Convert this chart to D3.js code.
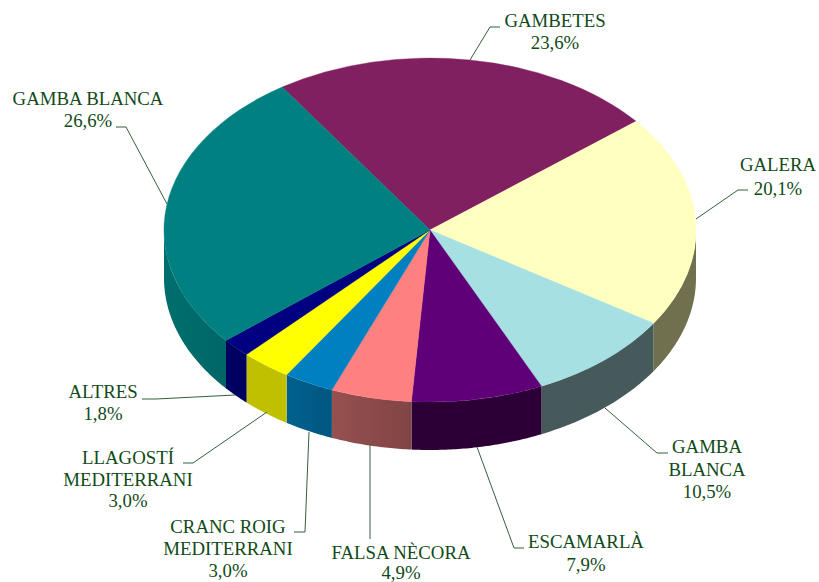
<!DOCTYPE html>
<html>
<head>
<meta charset="utf-8">
<script src="https://cdn.jsdelivr.net/npm/d3@7/dist/d3.min.js"></script>
<style>
html,body{margin:0;padding:0;background:#fff}
svg{display:block}
text{font-family:"Liberation Serif",serif;font-size:18.8px;fill:#0f4a18;text-anchor:middle}
</style>
</head>
<body>
<svg id="chart" width="819" height="582"></svg>
<script>
// Species in drawing order, clockwise from the first slice
const categories = ["GAMBETES","GALERA","GAMBA BLANCA","ESCAMARLÀ","FALSA NÈCORA","CRANC ROIG MEDITERRANI","LLAGOSTÍ MEDITERRANI","ALTRES","GAMBA BLANCA"];
// Slice sizes as drawn in the picture (%)
const sliceShares = [23.5,20.0,9.0,8.0,4.9,3.05,3.05,1.8,26.7];
// Printed percentages
const printedValues = ["23,6%","20,1%","10,5%","7,9%","4,9%","3,0%","3,0%","1,8%","26,6%"];
// Printed label lines
const labelLines = [["GAMBETES"],["GALERA"],["GAMBA","BLANCA"],["ESCAMARLÀ"],["FALSA NÈCORA"],["CRANC ROIG","MEDITERRANI"],["LLAGOSTÍ","MEDITERRANI"],["ALTRES"],["GAMBA BLANCA"]];
// Colours
const topColors = ["#802060","#ffffc0","#a6e0e2","#5f0078","#ff8080","#0080c0","#ffff00","#000080","#008080"];
const wallColors = ["#602048","#70704f","#465a5c","#2c0036","#8c4a4a","#005c88","#c0c000","#000060","#006a6a"];
// Wall shading strength per slice (0 = flat)
const wallShade = [0,0,0,0,0.22,0.15,0,0,0.1];
// Label layout: centre x, first baseline, line step
const labelLayout = [
  {x:555,y:27,step:22},{x:778,y:171,step:24},{x:707,y:453,step:22.5},{x:586,y:548,step:23},
  {x:401,y:559,step:20},{x:228,y:533,step:22},{x:128,y:464,step:21.5},{x:103,y:398,step:22},{x:88,y:105,step:22}
];
// Leader polylines (annotation layout)
const leaders = [
  [[470,60],[490,27],[500,27]],
  [[696,219],[738,190],[748,190]],
  [[605,408],[657,453],[668,453]],
  [[477,447],[514,548],[524,548]],
  [[370,444],[370,539]],
  [[309,432],[305,532],[294,532]],
  [[267,412],[193,463],[183,463]],
  [[235,395],[156,399],[142,399]],
  [[167,204],[126,127],[116,127]]
];
const startDeg = -33.8;
const cx = 430, cy = 230, rx = 266, ry = 172, depth = 48;

const svg = d3.select("#chart");
const sx = d3.scaleLinear().domain([-1,1]).range([cx-rx,cx+rx]);
const sy = d3.scaleLinear().domain([-1,1]).range([cy-ry,cy+ry]);

const a0 = startDeg*Math.PI/180;
const slices = d3.pie().sort(null).startAngle(a0).endAngle(a0+2*Math.PI)(sliceShares);

const defs = svg.append("defs");
const wallGroup = svg.append("g");
const rimX = a => sx(Math.sin(a));
const rimY = a => sy(-Math.cos(a));

slices.forEach((s,i)=>{
  // Only the front half of the rim is visible
  const lo = Math.max(s.startAngle, Math.PI/2);
  const hi = Math.min(s.endAngle, 3*Math.PI/2);
  if (hi <= lo) return;
  const base = d3.color(wallColors[i]);
  const grad = defs.append("linearGradient").attr("id","w"+i).attr("x1",0).attr("x2",1).attr("y1",0).attr("y2",0);
  grad.append("stop").attr("offset","0%").attr("stop-color",base.brighter(wallShade[i]));
  grad.append("stop").attr("offset","100%").attr("stop-color",base.darker(wallShade[i]));
  const n = Math.ceil((hi-lo)/0.01);
  const angles = d3.range(n+1).map(k=>lo+(hi-lo)*k/n);
  const pts = angles.map(a=>[rimX(a),rimY(a)])
    .concat(angles.slice().reverse().map(a=>[rimX(a),rimY(a)+depth]));
  wallGroup.append("path")
    .attr("d",d3.line()(pts)+"Z")
    .attr("fill",`url(#w${i})`);
});

const arc = d3.arc().innerRadius(0).outerRadius(1);
svg.append("g")
  .attr("transform",`translate(${cx},${cy}) scale(${rx},${ry})`)
  .selectAll("path").data(slices).join("path")
  .attr("d",arc)
  .attr("fill",(d,i)=>topColors[i])
  .attr("stroke",(d,i)=>topColors[i])
  .attr("stroke-width",0.4)
  .attr("vector-effect","non-scaling-stroke");

svg.append("g").selectAll("path").data(leaders).join("path")
  .attr("d",d=>d3.line()(d))
  .attr("fill","none")
  .attr("stroke","#33603a")
  .attr("stroke-width",1);

const labels = svg.append("g");
categories.forEach((c,i)=>{
  const L = labelLayout[i];
  const t = labels.append("text").attr("aria-label",c);
  labelLines[i].concat([printedValues[i]]).forEach((ln,k)=>{
    t.append("tspan").attr("x",L.x).attr("y",L.y+k*L.step).text(ln);
  });
});
</script>
</body>
</html>
